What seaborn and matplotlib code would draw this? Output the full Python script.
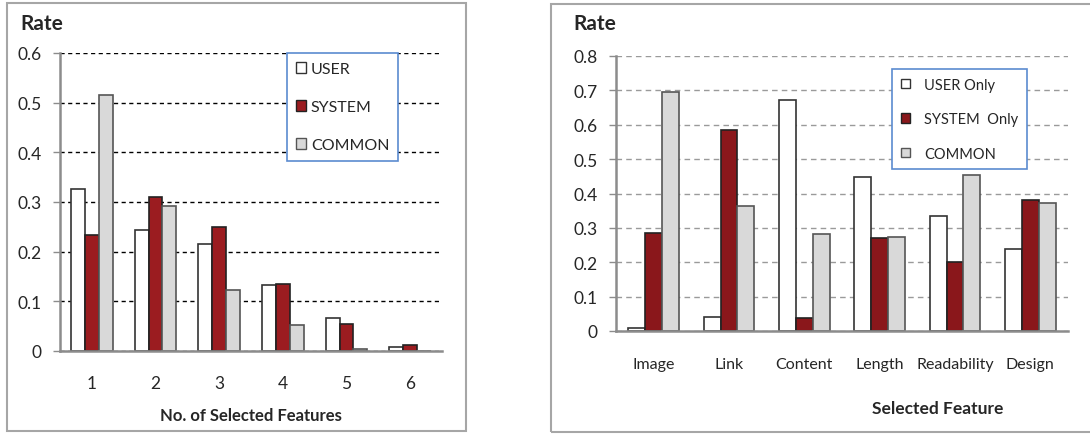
import matplotlib
matplotlib.use('Agg')
import matplotlib.pyplot as plt
import matplotlib.patches as mpatches
from matplotlib.ticker import FormatStrFormatter
import pandas as pd
import seaborn as sns

# data
series_left = ['USER', 'SYSTEM', 'COMMON']
n_selected = ['1', '2', '3', '4', '5', '6']
user_rate = [0.326, 0.244, 0.215, 0.133, 0.066, 0.009]
system_rate = [0.233, 0.311, 0.249, 0.135, 0.054, 0.012]
common_rate = [0.515, 0.291, 0.123, 0.052, 0.005, 0.0]

series_right = ['USER Only', 'SYSTEM  Only', 'COMMON']
features = ['Image', 'Link', 'Content', 'Length', 'Readability', 'Design']
user_only = [0.008, 0.042, 0.673, 0.448, 0.336, 0.238]
system_only = [0.286, 0.584, 0.037, 0.270, 0.201, 0.381]
common_feat = [0.696, 0.365, 0.281, 0.273, 0.453, 0.373]

W, H = 1090, 435

sns.set_style('white')
plt.rcParams['font.family'] = ['Lato', 'DejaVu Sans']

fig = plt.figure(figsize=(W / 100, H / 100), dpi=100)
fig.patch.set_facecolor('white')


def fig_box(x0, y0, x1, y1):
    return [x0 / W, 1 - y1 / H, (x1 - x0) / W, (y1 - y0) / H]


# panel frames
for (x0, y0, x1, y1) in [(7, 4, 466, 432), (551, 5, 1095, 433)]:
    fig.patches.append(mpatches.Rectangle((x0 / W, 1 - y1 / H), (x1 - x0) / W, (y1 - y0) / H,
                                          transform=fig.transFigure, fill=False,
                                          edgecolor='#A6A6A6', linewidth=1.5))


def make_df(cats, names, cols):
    rows = []
    for name, vals in zip(names, cols):
        for c, v in zip(cats, vals):
            rows.append({'cat': c, 'series': name, 'rate': v})
    return pd.DataFrame(rows)


def draw_panel(ax, df, names, colors, edges, width, ymax, grid_color, dash):
    pal = dict(zip(names, colors))
    sns.barplot(data=df, x='cat', y='rate', hue='series', hue_order=names, palette=pal,
                width=width, gap=0, legend=False, ax=ax, saturation=1, linewidth=1.2,
                err_kws={'linewidth': 0})
    # edge colours per series
    for cont, ec in zip(ax.containers, edges):
        for bar in cont:
            bar.set_edgecolor(ec)
    ax.set_ylim(0, ymax)
    ax.set_xlim(-0.5, len(df['cat'].unique()) - 0.5)
    ax.set_yticks([i / 10 for i in range(int(round(ymax * 10)) + 1)])
    ax.yaxis.set_major_formatter(FormatStrFormatter('%g'))
    ax.yaxis.grid(True, color=grid_color, linestyle=(0, dash), linewidth=1)
    ax.set_axisbelow(True)
    for s in ['top', 'right']:
        ax.spines[s].set_visible(False)
    for s in ['left', 'bottom']:
        ax.spines[s].set_color('#8C8C8C')
        ax.spines[s].set_linewidth(1.8)
    ax.tick_params(axis='y', length=5, color='#8C8C8C', width=1, labelsize=12.5, pad=8, direction='out', left=True)
    ax.tick_params(axis='x', length=0, labelsize=11.5)
    ax.set_ylabel('')
    ax.set_facecolor('white')
    return pal


# left panel
axl = fig.add_axes(fig_box(60, 54, 442, 352))
df_l = make_df(n_selected, series_left, [user_rate, system_rate, common_rate])
colors_l = ['white', '#9B1C20', '#D9D9D9']
edges_l = ['#333333', '#222222', '#555555']
draw_panel(axl, df_l, series_left, colors_l, edges_l, 0.655, 0.6, 'black', (3, 2.5))
axl.tick_params(axis='x', pad=17, labelsize=12.5)
axl.set_xlabel('No. of Selected Features', fontsize=12, fontweight='bold')
axl.xaxis.set_label_coords(0.5, -0.215)
axl.xaxis.label.set_va('center')
fig.text(20 / W, 1 - 24 / H, 'Rate', fontsize=15, fontweight='bold', ha='left', va='center')

handles_l = [mpatches.Patch(facecolor=c, edgecolor=e, linewidth=1, label=n)
             for n, c, e in zip(series_left, colors_l, edges_l)]
leg_l = axl.legend(handles=handles_l, loc='upper left', bbox_to_anchor=(287 / W, 1 - 54 / H),
                   bbox_transform=fig.transFigure, fontsize=11.5, frameon=True, fancybox=False,
                   edgecolor='#5B8BD0', framealpha=1, handlelength=0.65, handleheight=0.7,
                   handletextpad=0.3, labelspacing=1.5, borderpad=0.55, borderaxespad=0)
leg_l.get_frame().set_linewidth(1.2)

# right panel
axr = fig.add_axes(fig_box(616, 57, 1068, 332))
df_r = make_df(features, series_right, [user_only, system_only, common_feat])
colors_r = ['white', '#8A171B', '#D9D9D9']
edges_r = ['#333333', '#222222', '#555555']
draw_panel(axr, df_r, series_right, colors_r, edges_r, 0.675, 0.8, '#9A9A9A', (4, 3))
axr.tick_params(axis='x', pad=19)
axr.set_xlabel('Selected Feature', fontsize=12.5, fontweight='bold')
axr.xaxis.set_label_coords((938 - 616) / 452, -(409 - 332) / 275)
axr.xaxis.label.set_va('center')
fig.text(573 / W, 1 - 24 / H, 'Rate', fontsize=15, fontweight='bold', ha='left', va='center')

handles_r = [mpatches.Patch(facecolor=c, edgecolor=e, linewidth=1, label=n)
             for n, c, e in zip(series_right, colors_r, edges_r)]
leg_r = axr.legend(handles=handles_r, loc='upper left', bbox_to_anchor=(892 / W, 1 - 70 / H),
                   bbox_transform=fig.transFigure, fontsize=10.5, frameon=True, fancybox=False,
                   edgecolor='#5B8BD0', framealpha=1, handlelength=0.6, handleheight=0.65,
                   handletextpad=1.0, labelspacing=1.4, borderpad=0.6, borderaxespad=0)
leg_r.get_frame().set_linewidth(1.2)

fig.savefig('out.png', dpi=100, facecolor='white')
